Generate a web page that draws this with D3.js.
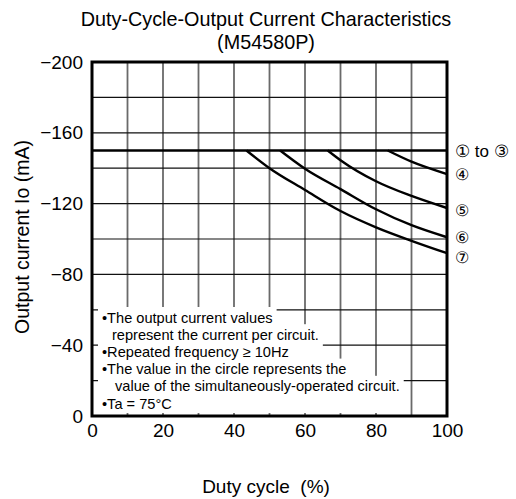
<!DOCTYPE html>
<html>
<head>
<meta charset="utf-8">
<script src="https://cdn.jsdelivr.net/npm/d3@7"></script>
<style>
  body { margin: 0; background: #fff; }
  text { font-family: "Liberation Sans", Arial, sans-serif; fill: #000; }
</style>
</head>
<body>
<svg width="516" height="499"></svg>
<script>
// values
var xTicks = [0, 20, 40, 60, 80, 100];
var yTicks = [0, -40, -80, -120, -160, -200];
var xGrid = [10, 20, 30, 40, 50, 60, 70, 80, 90];
var yGrid = [-20, -40, -60, -80, -100, -120, -140, -160, -180];

var circuitLabels = ["\u2460 to \u2462", "\u2463", "\u2464", "\u2465", "\u2466"];
var duty13 = [0, 100];
var current13 = [-150, -150];
var duty4 = [83.3, 90, 100];
var current4 = [-150, -143.7, -136.7];
var duty5 = [66.4, 70, 80, 90, 100];
var current5 = [-150, -144.5, -132.6, -124.3, -117.5];
var duty6 = [53, 60, 70, 80, 90, 100];
var current6 = [-150, -139.7, -128.2, -116.8, -107.8, -101];
var duty7 = [43.5, 50, 60, 70, 80, 90, 100];
var current7 = [-150, -140, -127.7, -115.8, -106.6, -99, -92];

var notes = [
  "\u2022The output current values",
  "represent the current per circuit.",
  "\u2022Repeated frequency \u2265 10Hz",
  "\u2022The value in the circle represents the",
  "value of the simultaneously-operated circuit.",
  "\u2022Ta = 75\u00b0C"
];

var margin = {left: 92, top: 62, right: 69, bottom: 83};
var width = 516 - margin.left - margin.right;
var height = 499 - margin.top - margin.bottom;

var svg = d3.select("svg");

var x = d3.scaleLinear().domain([0, 100]).range([0, width]);
var y = d3.scaleLinear().domain([0, -200]).range([height, 0]);

svg.append("text")
  .attr("x", 266).attr("y", 26)
  .attr("text-anchor", "middle")
  .style("font-size", "19.8px")
  .text("Duty-Cycle-Output Current Characteristics");
svg.append("text")
  .attr("x", 266).attr("y", 49)
  .attr("text-anchor", "middle")
  .style("font-size", "19.8px")
  .text("(M54580P)");

var g = svg.append("g")
  .attr("transform", `translate(${margin.left}, ${margin.top})`);

// grid
g.selectAll(".vgrid").data(xGrid).enter().append("line")
  .attr("x1", d => x(d)).attr("x2", d => x(d))
  .attr("y1", 0).attr("y2", height)
  .attr("stroke", "#6a6a6a").attr("stroke-width", 1.8);
g.selectAll(".hgrid").data(yGrid).enter().append("line")
  .attr("y1", d => y(d)).attr("y2", d => y(d))
  .attr("x1", 0).attr("x2", width)
  .attr("stroke", "#111").attr("stroke-width", 1.2);

// curves
var series = [
  [duty13, current13], [duty4, current4], [duty5, current5],
  [duty6, current6], [duty7, current7]
];
var line = d3.line()
  .x(d => x(d[0]))
  .y(d => y(d[1]))
  .curve(d3.curveMonotoneX);

series.forEach(function(s, i) {
  var pts = s[0].map((d, j) => [d, s[1][j]]);
  g.append("path")
    .attr("d", line(pts))
    .attr("fill", "none")
    .attr("stroke", "#000")
    .attr("stroke-width", i == 0 ? 2.6 : 2.4);
});

// note block, white behind each line
var noteG = g.append("g");
var baseY = 260.5;
var lineH = 17.2;
var bottomY = height - 3;
var indents = [10, 20, 10, 10, 23, 10];
var texts = notes.map(function(t, i) {
  return noteG.append("text")
    .attr("x", indents[i]).attr("y", baseY + i * lineH)
    .style("font-size", "14.6px")
    .text(t);
});
texts.forEach(function(t, i) {
  var bb = t.node().getBBox();
  var top = baseY + i * lineH - 15.5;
  noteG.insert("rect", "text")
    .attr("x", 6).attr("y", top)
    .attr("width", bb.x + bb.width + 4 - 6)
    .attr("height", bottomY - top)
    .attr("fill", "#fff");
});

// frame
g.append("rect")
  .attr("width", width).attr("height", height)
  .attr("fill", "none").attr("stroke", "#000").attr("stroke-width", 3);

// axes
var xAxis = d3.axisBottom(x).tickValues(xTicks).tickSize(0).tickPadding(8);
var yAxis = d3.axisLeft(y).tickValues(yTicks).tickSize(0).tickPadding(9);

g.append("g").attr("transform", `translate(0, ${height})`).call(xAxis)
  .call(a => a.select(".domain").remove())
  .selectAll("text").style("font-size", "19px").attr("fill", "#000");
g.append("g").call(yAxis)
  .call(a => a.select(".domain").remove())
  .selectAll("text").style("font-size", "19px").attr("fill", "#000");

// circuit labels at curve ends
var nudge = [1, 0, 2, 0, 4];
series.forEach(function(s, i) {
  var last = s[1][s[1].length - 1];
  g.append("text")
    .attr("x", width + 8)
    .attr("y", y(last) + nudge[i])
    .attr("dy", "0.35em")
    .style("font-size", i == 0 ? "17px" : "16px")
    .text(circuitLabels[i]);
});

svg.append("text")
  .attr("x", 266).attr("y", 493)
  .attr("text-anchor", "middle")
  .style("font-size", "19px")
  .style("white-space", "pre")
  .text("Duty cycle  (%)");

svg.append("text")
  .attr("transform", "translate(29, 237) rotate(-90)")
  .attr("text-anchor", "middle")
  .style("font-size", "19.5px")
  .text("Output current Io (mA)");
</script>
</body>
</html>
